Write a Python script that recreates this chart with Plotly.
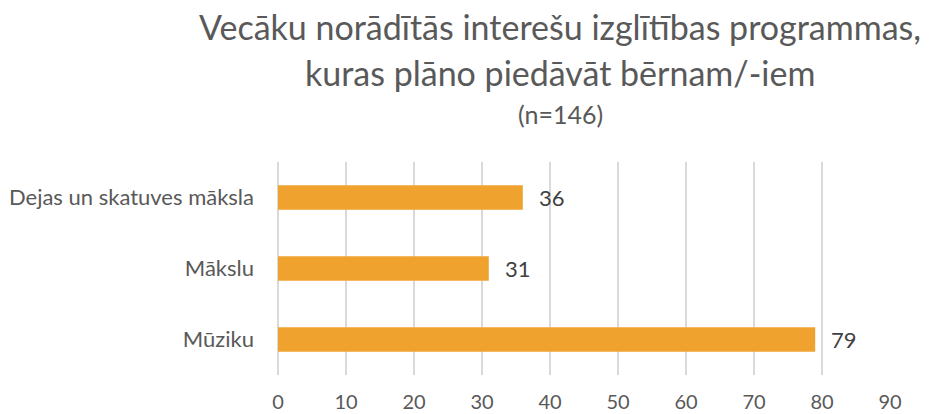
import plotly.graph_objects as go

# Program categories (top to bottom) and number of parents naming each
categories = ["Dejas un skatuves māksla", "Mākslu", "Mūziku"]
counts = [36, 31, 79]
x_ticks = [0, 10, 20, 30, 40, 50, 60, 70, 80, 90]

title_lines = [
    "Vecāku norādītās interešu izglītības programmas,",
    "kuras plāno piedāvāt bērnam/-iem",
    "(n=146)",
]

FONT = "Lato"
BAR = "#F0A22F"
GRID = "#D9D9D9"
LABEL = "#595959"

fig = go.Figure(
    go.Bar(
        x=counts,
        y=categories,
        orientation="h",
        marker=dict(color=BAR, line=dict(width=0)),
        hoverinfo="x+y",
    )
)

# value labels to the right of each bar
for cat, val in zip(categories, counts):
    fig.add_annotation(
        x=val, y=cat, xref="x", yref="y",
        text=str(val), showarrow=False,
        xanchor="left", xshift=14,
        font=dict(family=FONT, size=22, color="#404040"),
    )

# three-line centred heading (pixel centres from the top of the page)
title_y = [26, 72, 114]
title_size = [34, 34, 25]
for txt, py, sz in zip(title_lines, title_y, title_size):
    fig.add_annotation(
        x=0.461, y=1 + (162 - py) / 213, xref="paper", yref="paper",
        text=txt, showarrow=False, xanchor="center", yanchor="middle",
        font=dict(family=FONT, size=sz, color=LABEL),
    )

fig.update_layout(
    width=929, height=414,
    margin=dict(l=278, r=39, t=162, b=39),
    paper_bgcolor="white", plot_bgcolor="white",
    bargap=0.655,
    showlegend=False,
    font=dict(family=FONT, color=LABEL),
)
fig.update_xaxes(
    range=[0, 90], tickvals=x_ticks,
    showgrid=True, gridcolor=GRID, gridwidth=1.5,
    zeroline=True, zerolinecolor=GRID, zerolinewidth=1.5,
    showline=False, ticks="",
    tickfont=dict(family=FONT, size=20, color=LABEL),
    ticklabelstandoff=13,
    automargin=False,
    fixedrange=True,
)
fig.update_yaxes(
    autorange="reversed",
    showgrid=False, showline=False, ticks="",
    tickfont=dict(family=FONT, size=22, color=LABEL),
    ticklabelstandoff=23,
    automargin=False,
    fixedrange=True,
)

fig.write_html("out.html", config={"displayModeBar": False})
